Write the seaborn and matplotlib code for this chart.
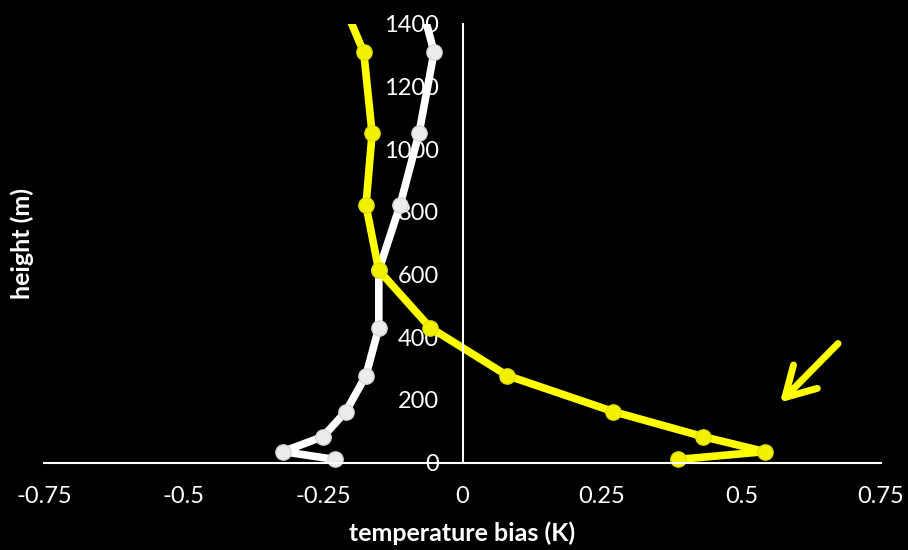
import matplotlib
matplotlib.use("Agg")
import matplotlib.pyplot as plt
import seaborn as sns
import pandas as pd

# Data
heights = [10, 35, 83, 163, 278, 431, 614, 821, 1051, 1310, 1600]
white_bias = [-0.228, -0.322, -0.250, -0.209, -0.173, -0.150, -0.150, -0.112, -0.078, -0.051, -0.094]
yellow_bias = [0.386, 0.542, 0.431, 0.270, 0.080, -0.058, -0.150, -0.173, -0.162, -0.177, -0.246]
xticks = [-0.75, -0.5, -0.25, 0, 0.25, 0.5, 0.75]
xticklabels = ["-0.75", "-0.5", "-0.25", "0", "0.25", "0.5", "0.75"]
yticks = [0, 200, 400, 600, 800, 1000, 1200, 1400]

sns.set_theme(style="white")
plt.rcParams["font.family"] = ["Lato", "DejaVu Sans"]

fig = plt.figure(figsize=(9.08, 5.5), dpi=100, facecolor="black")
ax = fig.add_axes([44/908, 1 - 474.5/550, (881 - 44)/908, (474.5 - 24)/550])
ax.set_facecolor("black")

df_w = pd.DataFrame({"bias": white_bias, "height": heights})
df_y = pd.DataFrame({"bias": yellow_bias, "height": heights})

sns.lineplot(data=df_w, x="bias", y="height", sort=False, estimator=None, ax=ax,
             color="white", lw=5.5, marker="o", markersize=11,
             markerfacecolor="#ececec", markeredgecolor="#d8d8d8", markeredgewidth=1)
sns.lineplot(data=df_y, x="bias", y="height", sort=False, estimator=None, ax=ax,
             color="#ffff00", lw=5.5, marker="o", markersize=11,
             markerfacecolor="#f2f200", markeredgecolor="#e0e000", markeredgewidth=1)

ax.set_xlim(-0.75, 0.75)
ax.set_ylim(-38, 1400)

for s in ["top", "right"]:
    ax.spines[s].set_visible(False)
ax.spines["left"].set_position(("data", 0))
ax.spines["bottom"].set_position(("data", 0))
ax.spines["left"].set_bounds(0, 1400)
for s in ["left", "bottom"]:
    ax.spines[s].set_color("white")
    ax.spines[s].set_linewidth(1.5)

ax.set_xticks(xticks)
ax.set_xticklabels(xticklabels)
ax.set_yticks(yticks)
ax.tick_params(axis="both", colors="white", labelsize=17, width=1.5, length=6, direction="out")
ax.tick_params(axis="x", pad=11)
ax.tick_params(axis="y", pad=11)

ax.set_xlabel("temperature bias (K)", color="white", fontsize=18, fontweight="bold", labelpad=10)
ax.set_ylabel("")
fig.text(22/908, 1 - 243/550, "height (m)", color="white", fontsize=18, fontweight="bold",
         rotation=90, ha="center", va="center")

ax.annotate("", xy=(0.569, 192), xytext=(0.673, 380),
            arrowprops=dict(arrowstyle="->,head_length=1.75,head_width=1.0",
                            color="#ffff00", lw=5, shrinkA=0, shrinkB=0))

ax.legend_ = None
fig.savefig("out.png", dpi=100, facecolor="black")
